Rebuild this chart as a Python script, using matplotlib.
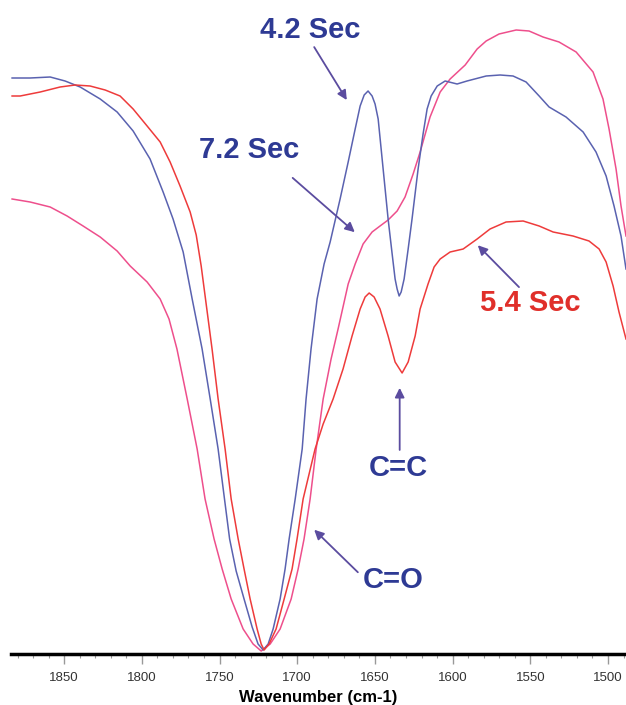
import numpy as np
import matplotlib
matplotlib.use('Agg')
import matplotlib.pyplot as plt
from matplotlib.ticker import MultipleLocator

plt.rcParams['font.family'] = ['Liberation Sans', 'DejaVu Sans']

# 4.2 s spectrum (blue)
wn_42 = [1883.5, 1871.9, 1859.0, 1849.4, 1839.7, 1826.8, 1815.9, 1805.6, 1794.7, 1786.3,
         1779.9, 1773.4, 1767.6, 1761.2, 1756.0, 1750.9, 1746.8, 1743.5, 1739.3, 1734.2,
         1729.0, 1725.2, 1721.9, 1718.7, 1715.5, 1711.0, 1707.8, 1705.2, 1701.3, 1696.8,
         1694.3, 1691.1, 1687.2, 1682.7, 1678.8, 1672.4, 1667.2, 1662.7, 1659.5, 1656.9,
         1654.4, 1651.8, 1649.9, 1647.9, 1644.7, 1641.5, 1638.9, 1637.0, 1635.7, 1634.4,
         1633.1, 1631.2, 1628.6, 1626.1, 1622.2, 1619.0, 1616.4, 1613.8, 1609.9, 1604.8,
         1597.1, 1590.7, 1578.4, 1569.4, 1561.1, 1552.7, 1544.3, 1537.9, 1527.0, 1516.0,
         1507.7, 1501.2, 1496.1, 1491.6, 1488.4]
t_42 = [57.6, 57.6, 57.7, 57.3, 56.7, 55.5, 54.2, 52.3, 49.5, 46.2,
        43.5, 40.2, 35.5, 30.5, 25.5, 20.5, 15.5, 11.5, 8.3, 5.5,
        2.7, 1.0, 0.4, 1.0, 2.5, 5.5, 8.5, 11.5, 15.5, 20.5,
        25.5, 30.5, 35.5, 39.0, 41.2, 45.5, 49.2, 52.5, 54.8, 55.9,
        56.3, 55.8, 55.0, 53.5, 48.5, 43.5, 40.0, 37.5, 36.5, 35.8,
        36.2, 37.5, 40.5, 43.5, 48.5, 52.0, 54.5, 55.8, 56.8, 57.3,
        57.0, 57.3, 57.8, 57.9, 57.8, 57.2, 55.8, 54.7, 53.7, 52.2,
        50.2, 47.8, 44.8, 41.8, 38.5]

# 5.4 s spectrum (red)
wn_54 = [1883.5, 1878.3, 1865.4, 1852.6, 1842.9, 1833.3, 1823.6, 1814.0, 1805.6, 1796.6,
         1788.2, 1781.8, 1775.4, 1768.9, 1765.0, 1761.8, 1758.6, 1754.8, 1750.9, 1746.4,
         1742.5, 1738.0, 1734.2, 1730.3, 1725.8, 1723.2, 1721.3, 1718.1, 1713.6, 1708.4,
         1703.3, 1700.1, 1696.2, 1688.5, 1683.3, 1676.9, 1670.5, 1664.7, 1659.5, 1656.3,
         1653.7, 1650.5, 1646.7, 1641.5, 1637.0, 1632.5, 1628.6, 1624.1, 1620.9, 1615.8,
         1611.9, 1608.0, 1601.6, 1593.2, 1584.2, 1575.9, 1565.6, 1554.6, 1544.3, 1535.3,
         1522.5, 1512.2, 1505.7, 1501.2, 1496.7, 1492.9, 1488.4]
t_54 = [55.8, 55.8, 56.2, 56.7, 56.9, 56.8, 56.4, 55.8, 54.5, 52.8,
        51.2, 49.2, 46.8, 44.2, 41.9, 38.8, 35.0, 30.5, 25.5, 20.5,
        15.5, 11.5, 8.5, 5.5, 2.5, 1.0, 0.4, 1.0, 2.5, 5.5,
        8.5, 11.5, 15.5, 20.5, 23.0, 25.5, 28.5, 31.8, 34.5, 35.7,
        36.1, 35.7, 34.5, 31.8, 29.2, 28.1, 29.2, 31.8, 34.5, 37.0,
        38.7, 39.5, 40.2, 40.5, 41.5, 42.5, 43.2, 43.3, 42.8, 42.2,
        41.8, 41.3, 40.5, 39.2, 36.8, 34.2, 31.5]

# 7.2 s spectrum (pink)
wn_72 = [1883.5, 1871.9, 1859.0, 1848.1, 1837.8, 1826.8, 1815.9, 1807.5, 1796.6, 1788.2,
         1782.5, 1777.4, 1770.8, 1764.4, 1759.3, 1753.5, 1748.3, 1742.5, 1734.8, 1728.4,
         1723.2, 1717.4, 1711.0, 1703.9, 1699.4, 1695.6, 1691.7, 1687.8, 1683.3, 1678.2,
         1673.7, 1667.2, 1662.7, 1657.6, 1651.8, 1646.7, 1641.5, 1635.7, 1630.6, 1625.4,
         1620.9, 1614.5, 1608.0, 1601.6, 1591.9, 1584.2, 1578.4, 1570.1, 1559.1, 1550.8,
         1541.8, 1531.5, 1520.5, 1509.6, 1503.2, 1499.3, 1494.8, 1491.6, 1488.4]
t_72 = [45.5, 45.2, 44.7, 43.8, 42.8, 41.7, 40.3, 38.8, 37.2, 35.5,
        33.5, 30.5, 25.5, 20.5, 15.5, 11.5, 8.5, 5.5, 2.5, 1.0,
        0.3, 1.0, 2.5, 5.5, 8.5, 11.5, 15.5, 20.5, 25.5, 29.5,
        32.5, 37.0, 39.0, 41.0, 42.2, 42.8, 43.4, 44.3, 45.7, 48.0,
        50.2, 53.7, 56.2, 57.5, 58.9, 60.5, 61.3, 62.0, 62.4, 62.3,
        61.7, 61.2, 60.2, 58.2, 55.5, 52.5, 48.5, 44.8, 41.8]

xticks = [1850, 1800, 1750, 1700, 1650, 1600, 1550, 1500]

blue_c = '#5a62b0'
red_c = '#ee3b3b'
pink_c = '#ee4f8c'
arrow_c = '#5b4c9f'
txt_blue = '#2e3a94'
txt_red = '#e02f2a'

fig = plt.figure(figsize=(6.26, 7.05), dpi=100)
ax = fig.add_axes([11/626, 51/705, 615/626, 654/705])

ax.plot(wn_72, t_72, color=pink_c, lw=1.1, solid_joinstyle='round')
ax.plot(wn_42, t_42, color=blue_c, lw=1.1, solid_joinstyle='round')
ax.plot(wn_54, t_54, color=red_c, lw=1.1, solid_joinstyle='round')

ax.set_xlim(1884.2, 1488.4)
ax.set_ylim(0, 65.4)
ax.set_xticks(xticks)
ax.xaxis.set_minor_locator(MultipleLocator(10))
ax.tick_params(axis='x', which='major', length=7, width=1, color='#999999',
               labelsize=9.5, labelcolor='#333333', pad=6)
ax.tick_params(axis='x', which='minor', length=3, width=0.8, color='#999999')
ax.set_yticks([])
for s in ['left', 'right', 'top']:
    ax.spines[s].set_visible(False)
ax.spines['bottom'].set_linewidth(2.5)
ax.set_xlabel('Wavenumber (cm-1)', fontsize=12, fontweight='bold', labelpad=4)

labels = ['4.2 Sec', '7.2 Sec', '5.4 Sec', 'C=C', 'C=O']
label_colors = [txt_blue, txt_blue, txt_red, txt_blue, txt_blue]
text_pos = [(0.487, 0.954), (0.388, 0.771), (0.845, 0.537), (0.629, 0.284), (0.622, 0.113)]
arrow_from = [(0.493, 0.928), (0.458, 0.728), (0.826, 0.561), (0.632, 0.312), (0.564, 0.125)]
arrow_to = [(0.546, 0.847), (0.559, 0.645), (0.759, 0.625), (0.632, 0.407), (0.493, 0.190)]

for lab, c, tp, a0, a1 in zip(labels, label_colors, text_pos, arrow_from, arrow_to):
    ax.text(tp[0], tp[1], lab, transform=ax.transAxes, ha='center', va='center',
            fontsize=21, fontweight='bold', color=c)
    ax.annotate('', xy=a1, xycoords='axes fraction', xytext=a0, textcoords='axes fraction',
                arrowprops=dict(arrowstyle='-|>', color=arrow_c, lw=1.3, mutation_scale=14,
                                shrinkA=0, shrinkB=0))

fig.savefig('out.png', dpi=100)
